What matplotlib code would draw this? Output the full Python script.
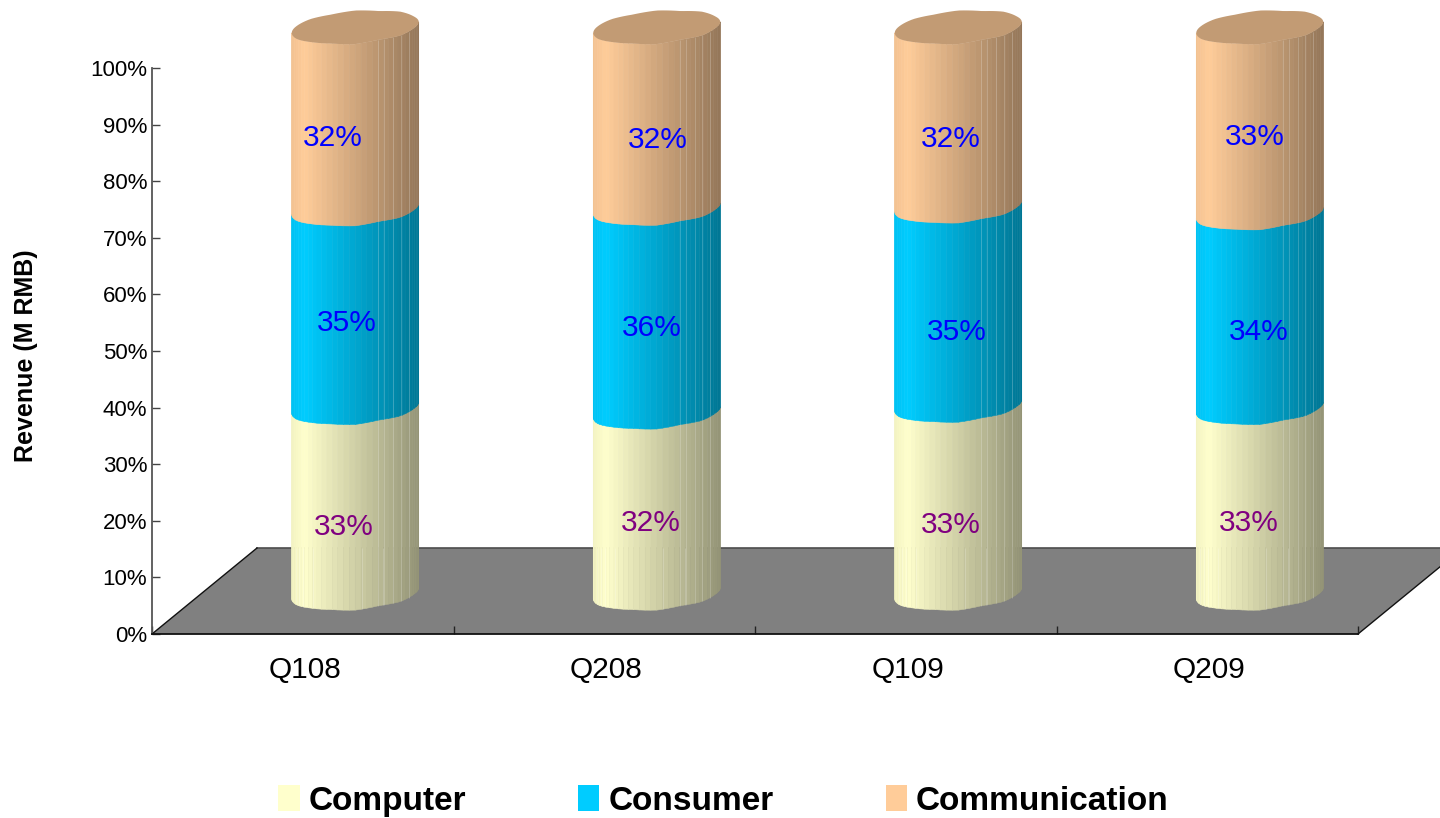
import numpy as np
import matplotlib
matplotlib.use("Agg")
import matplotlib.pyplot as plt
from matplotlib.collections import PolyCollection, LineCollection
from matplotlib.patches import Polygon, Patch

plt.rcParams['font.family'] = ['Liberation Sans', 'DejaVu Sans']

quarters = ['Q108', 'Q208', 'Q109', 'Q209']
series_names = ['Computer', 'Consumer', 'Communication']
computer = [32.8, 32.0, 33.2, 32.8]
consumer = [35.1, 36.0, 35.2, 34.4]
communication = [32.1, 32.0, 31.6, 32.8]
computer_labels = ['33%', '32%', '33%', '33%']
consumer_labels = ['35%', '36%', '35%', '34%']
communication_labels = ['32%', '32%', '32%', '33%']
y_ticks = [0, 10, 20, 30, 40, 50, 60, 70, 80, 90, 100]

colors = ['#FFFFCC', '#00CCFF', '#FFCC99']
label_colors = ['#800080', '#0000FF', '#0000FF']
# pixel nudges of the value labels (series x quarter)
nudges = [
    [(-11, -26.6), (-5.5, -20.4), (-7, -26), (-11, -22.6)],
    [(-8, -15), (-4.5, -18), (-1, -26), (-1, -22)],
    [(-22, -20), (1.5, -22), (-7, -22), (-5, -17)],
]
# small waviness of the faceted rims, in pixels, around the ellipse
wobble_angles = np.linspace(0, 2 * np.pi, 17)
wobble_px = [0, -0.3, 0.6, -0.6, 0.9, 0.1, 0.9, 0.3, 0, -0.3, 0.6, 0.8, -0.7, 0.6, -0.8, 0.3, 0]

W, H = 1440, 818
fig = plt.figure(figsize=(W / 100, H / 100), dpi=100, facecolor='white')
ax = fig.add_axes([152 / W, (H - 634) / H, 1206 / W, 566 / H])
ax.set_xlim(0, 4)
ax.set_ylim(0, 100)
ax.patch.set_alpha(0)

px = 4 / 1206      # category units per pixel
py = 100 / 566     # percent per pixel

# floor
depth_x, depth_y = 105 * px, 86 * py
floor = Polygon([(0, 0), (depth_x, depth_y), (4 + depth_x, depth_y), (4, 0)],
                closed=True, facecolor='#808080', edgecolor='none', clip_on=False, zorder=1)
ax.add_patch(floor)
ax.plot([depth_x, 4 + depth_x], [depth_y, depth_y], color='#4d4d4d', lw=1.2, clip_on=False, zorder=1.1)
ax.plot([0, depth_x], [0, depth_y], color='#111111', lw=1.0, clip_on=False, zorder=1.1)
ax.plot([4, 4 + depth_x], [0, depth_y], color='#111111', lw=1.0, clip_on=False, zorder=1.1)

# cylinder geometry
off_x, off_y = 52.5 * px, 41 * py * 0.99
a, b, tilt = 63.5 * px, 16 * py, 5.5 * py
N = 34
angles = np.linspace(np.pi, 2 * np.pi, N + 1)


def shade(u):
    if u < 0.1:
        return 0.95 + 0.5 * u
    return 1.0 - 0.42 * (u - 0.1) / 0.9


def curve(t, cx, base):
    w = np.interp(t, wobble_angles, wobble_px) * py
    return cx + a * np.cos(t), base + tilt * np.cos(t) + b * np.sin(t) + w


seam_right = [0.68, 0.73, 0.80, 0.86, 0.92]
seam_left = [0.03, 0.06, 0.09, 0.17, 0.55, 0.72]
for i in range(len(quarters)):
    cx = i + 0.5 + off_x
    bottom = off_y
    polys, fcs, seams = [], [], []
    for s, values in enumerate([computer, consumer, communication]):
        top = bottom + values[i]
        rgb = np.array(matplotlib.colors.to_rgb(colors[s]))
        for k in range(N):
            t0, t1 = angles[k], angles[k + 1]
            x0, y0b = curve(t0, cx, bottom)
            x1, y1b = curve(t1, cx, bottom)
            _, y0t = curve(t0, cx, top)
            _, y1t = curve(t1, cx, top)
            u = (0.5 * (x0 + x1) - (cx - a)) / (2 * a)
            polys.append([(x0, y0b), (x1, y1b), (x1, y1t), (x0, y0t)])
            fcs.append(tuple(rgb * shade(u)))
        for u in seam_right:
            t = 2 * np.pi - np.arccos(2 * u - 1)
            x, yb = curve(t, cx, bottom)
            _, yt = curve(t, cx, top)
            seams.append([(x, yb), (x, yt)])
        mid_value = 0.5 * (bottom + top)
        ax.annotate([computer_labels, consumer_labels, communication_labels][s][i],
                    xy=(cx, mid_value), xytext=nudges[s][i], textcoords='offset pixels',
                    ha='center', va='center', fontsize=21.5, color=label_colors[s], zorder=6)
        bottom = top
    for u in seam_left:
        t = 2 * np.pi - np.arccos(2 * u - 1)
        x, yb = curve(t, cx, off_y)
        seams.append([(x, yb), (x, depth_y)])
    ax.add_collection(PolyCollection(polys, facecolors=fcs, edgecolors='face', linewidths=0.4,
                                     clip_on=False, zorder=3))
    ax.add_collection(LineCollection(seams, colors='white', alpha=0.2, linewidths=0.7,
                                     clip_on=False, zorder=3.5))
    tt = np.linspace(0, 2 * np.pi, 90)
    lx, ly = curve(tt, cx, bottom)
    lid_color = tuple(np.array(matplotlib.colors.to_rgb(colors[2])) * 0.76)
    ax.add_patch(Polygon(np.column_stack([lx, ly]), closed=True, facecolor=lid_color,
                         edgecolor='none', clip_on=False, zorder=4))

# axes furniture
for name in ['top', 'right']:
    ax.spines[name].set_visible(False)
ax.spines['left'].set_color('#555555')
ax.spines['left'].set_linewidth(1.3)
ax.spines['bottom'].set_color('#111111')
ax.spines['bottom'].set_linewidth(1.3)
ax.spines['left'].set_zorder(2)
ax.spines['bottom'].set_zorder(2)

ax.set_yticks(y_ticks)
ax.set_yticklabels([f'{v}%' for v in y_ticks], fontsize=16, color='#000000')
ax.tick_params(axis='y', direction='in', length=6, width=1.0, color='#444444', pad=3.5, zorder=2)
ax.set_xticks(range(5))
ax.set_xticklabels([])
ax.set_xticks([i + 0.5 + 2 * px for i in range(4)], minor=True)
ax.set_xticklabels(quarters, minor=True, fontsize=21.5, color='#000000')
ax.tick_params(axis='x', which='major', direction='in', length=6, width=1.0, color='#222222')
ax.tick_params(axis='x', which='minor', length=0, pad=16)

fig.text(26 / W, 1 - 356 / H, 'Revenue (M RMB)', rotation=90, ha='center', va='center',
         fontsize=18, fontweight='bold', color='#000000')

handles = [Patch(facecolor=c, edgecolor='none') for c in colors]
leg = fig.legend(handles, series_names, loc='center', bbox_to_anchor=(723.5 / W, 1 - 801 / H),
                 ncol=3, frameon=False, fontsize=24, handlelength=0.64, handleheight=0.8,
                 handletextpad=0.27, columnspacing=3.36, borderpad=0, borderaxespad=0)
for text in leg.get_texts():
    text.set_fontweight('bold')
    text.set_color('#000000')

fig.savefig('out.png', dpi=100, facecolor='white')
